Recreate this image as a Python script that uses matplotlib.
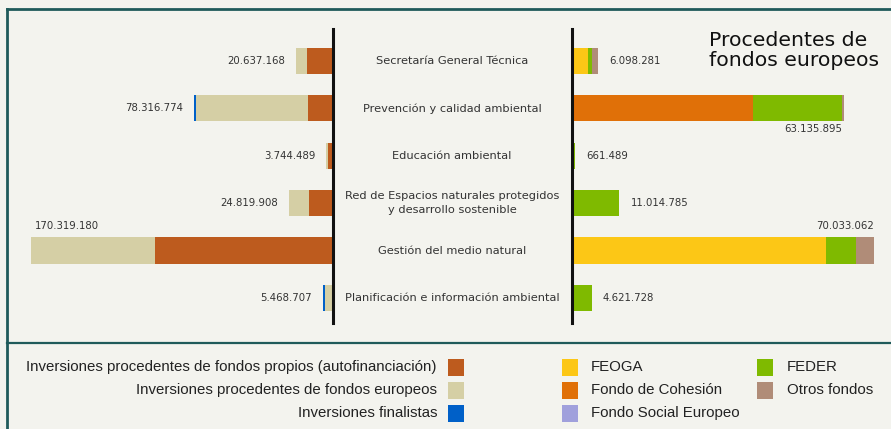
import matplotlib
matplotlib.use("Agg")
import matplotlib.pyplot as plt
from matplotlib.patches import Rectangle
from matplotlib.lines import Line2D
from matplotlib.transforms import blended_transform_factory
import numpy as np

# ---------------- data ----------------
categories = [
    "Secretaría General Técnica",
    "Prevención y calidad ambiental",
    "Educación ambiental",
    "Red de Espacios naturales protegidos\ny desarrollo sostenible",
    "Gestión del medio natural",
    "Planificación e información ambiental",
]
# left side (millions of euros)
propios = [14.539, 14.000, 3.083, 13.805, 100.286, 0.0]
europeos = [6.098, 63.136, 0.661, 11.015, 70.033, 4.622]
finalistas = [0.0, 1.181, 0.0, 0.0, 0.0, 0.847]
left_totals = [20637168, 78316774, 3744489, 24819908, 170319180, 5468707]

# right side (millions of euros)
feoga = [3.650, 0.0, 0.0, 0.0, 59.000, 0.0]
cohesion = [0.0, 42.100, 0.0, 0.0, 0.0, 0.0]
fse = [0.0, 0.0, 0.0, 0.0, 0.0, 0.0]
feder = [0.950, 20.600, 0.661, 11.015, 7.000, 4.622]
otros = [1.498, 0.436, 0.0, 0.0, 4.033, 0.0]
right_totals = [6098281, 63135895, 661489, 11014785, 70033062, 4621728]

legend_left = [
    "Inversiones procedentes de fondos propios (autofinanciación)",
    "Inversiones procedentes de fondos europeos",
    "Inversiones finalistas",
]
legend_mid = ["FEOGA", "Fondo de Cohesión", "Fondo Social Europeo"]
legend_right = ["FEDER", "Otros fondos"]
title = "Procedentes de\nfondos europeos"

# ---------------- style ----------------
C_PROP = "#bd5b1e"
C_EUR = "#d5cfa5"
C_FIN = "#0060c8"
C_FEOGA = "#fcc716"
C_COH = "#e07008"
C_FSE = "#a0a0dc"
C_FEDER = "#7fba00"
C_OTROS = "#b08c78"
BG = "#f3f3ee"
BORDER = "#1f5a5a"
TXT = "#333333"

left_pos = ["left", "left", "left", "left", "above", "left"]
right_pos = ["right", "below", "right", "right", "above", "right"]

W, H = 891, 429
fig = plt.figure(figsize=(W / 100, H / 100), dpi=100)
fig.patch.set_facecolor(BG)


def fx(px):
    return px / W


def fy(py):
    return 1 - py / H


ax_top, ax_bot = 29, 323
axL = fig.add_axes([fx(20), fy(ax_bot), fx(333 - 20), fy(ax_top) - fy(ax_bot)])
axR = fig.add_axes([fx(572), fy(ax_bot), fx(880 - 572), fy(ax_top) - fy(ax_bot)])

n = len(categories)
y = np.arange(n)
bh = 0.55

for ax in (axL, axR):
    ax.set_facecolor("none")
    ax.set_ylim(n - 1 + 0.53, -0.675)
    ax.set_xticks([])
    ax.set_yticks([])
    for s in ax.spines.values():
        s.set_visible(False)

axL.set_xlim(176.5, 0)
axR.set_xlim(0, 71.5)
axL.spines["right"].set_visible(True)
axL.spines["right"].set_linewidth(2.2)
axL.spines["right"].set_color("#111111")
axR.spines["left"].set_visible(True)
axR.spines["left"].set_linewidth(2.2)
axR.spines["left"].set_color("#111111")

# left stacked bars
base = np.zeros(n)
for vals, col in ((propios, C_PROP), (europeos, C_EUR), (finalistas, C_FIN)):
    v = np.array(vals)
    axL.barh(y, v, left=base, height=bh, color=col, linewidth=0)
    base = base + v
left_end = base

base = np.zeros(n)
for vals, col in ((feoga, C_FEOGA), (cohesion, C_COH), (fse, C_FSE), (feder, C_FEDER), (otros, C_OTROS)):
    v = np.array(vals)
    axR.barh(y, v, left=base, height=bh, color=col, linewidth=0)
    base = base + v
right_end = base


def fmt(v):
    return f"{v:,}".replace(",", ".")


fs_val = 7.3
for i in range(n):
    t = fmt(left_totals[i])
    if left_pos[i] == "left":
        axL.annotate(t, (left_end[i], y[i]), xytext=(-8, 0), textcoords="offset points",
                     ha="right", va="center", fontsize=fs_val, color=TXT)
    else:
        axL.annotate(t, (left_end[i], y[i] - bh / 2), xytext=(3, 5), textcoords="offset points",
                     ha="left", va="bottom", fontsize=fs_val, color=TXT)
    t = fmt(right_totals[i])
    if right_pos[i] == "right":
        axR.annotate(t, (right_end[i], y[i]), xytext=(8, 0), textcoords="offset points",
                     ha="left", va="center", fontsize=fs_val, color=TXT)
    elif right_pos[i] == "below":
        axR.annotate(t, (right_end[i], y[i] + bh / 2), xytext=(-1, -2), textcoords="offset points",
                     ha="right", va="top", fontsize=fs_val, color=TXT)
    else:
        axR.annotate(t, (right_end[i], y[i] - bh / 2), xytext=(0, 5), textcoords="offset points",
                     ha="right", va="bottom", fontsize=fs_val, color=TXT)

# category labels centred between axes
tr = blended_transform_factory(fig.transFigure, axL.transData)
for i, c in enumerate(categories):
    fig.text(fx(452), y[i], c, transform=tr, ha="center", va="center",
             fontsize=8.2, color=TXT, linespacing=1.5)

# title
fig.text(fx(709), fy(31), title, ha="left", va="top", fontsize=14.7, color="#111111",
         linespacing=1.05)

# border
fig.add_artist(Line2D([fx(7), 1], [fy(9), fy(9)], color=BORDER, lw=2))
fig.add_artist(Line2D([fx(7), fx(7)], [fy(9), 0], color=BORDER, lw=2))
fig.add_artist(Line2D([fx(7), 1], [fy(343), fy(343)], color=BORDER, lw=1.6))

# legend
leg_font = ["Liberation Sans", "DejaVu Sans"]
leg_fs = 10.8
rows_y = [367, 390, 413]
sq_w, sq_h = 16, 17
for lab, col, ry in zip(legend_left, (C_PROP, C_EUR, C_FIN), rows_y):
    fig.text(fx(437), fy(ry), lab, ha="right", va="center", fontsize=leg_fs,
             color="#222222", family=leg_font)
    fig.add_artist(Rectangle((fx(448), fy(ry + sq_h / 2)), fx(sq_w), sq_h / H,
                             transform=fig.transFigure, color=col, lw=0))
for lab, col, ry in zip(legend_mid, (C_FEOGA, C_COH, C_FSE), rows_y):
    fig.add_artist(Rectangle((fx(562), fy(ry + sq_h / 2)), fx(sq_w), sq_h / H,
                             transform=fig.transFigure, color=col, lw=0))
    fig.text(fx(591), fy(ry), lab, ha="left", va="center", fontsize=leg_fs,
             color="#222222", family=leg_font)
for lab, col, ry in zip(legend_right, (C_FEDER, C_OTROS), rows_y):
    fig.add_artist(Rectangle((fx(757), fy(ry + sq_h / 2)), fx(sq_w), sq_h / H,
                             transform=fig.transFigure, color=col, lw=0))
    fig.text(fx(787), fy(ry), lab, ha="left", va="center", fontsize=leg_fs,
             color="#222222", family=leg_font)

fig.savefig("out.png", dpi=100, facecolor=BG)
